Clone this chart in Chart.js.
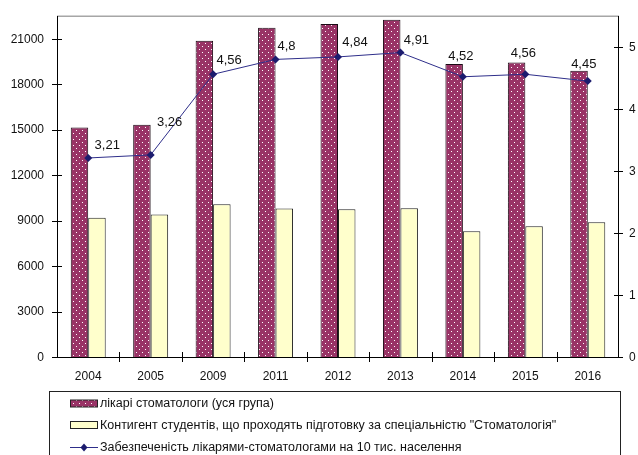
<!DOCTYPE html>
<html>
<head>
<meta charset="utf-8">
<script src="https://cdn.jsdelivr.net/npm/chart.js@4.4.1/dist/chart.umd.min.js"></script>
<style>
  html, body { margin: 0; padding: 0; background: #fff; }
  #wrap { width: 638px; height: 455px; position: relative; }
</style>
</head>
<body>
<div id="wrap"><canvas id="c" width="638" height="455"></canvas></div>
<script>
// Years on the category axis
const years = ['2004', '2005', '2009', '2011', '2012', '2013', '2014', '2015', '2016'];
// Dentists, whole group (left axis)
const dentists = [15150, 15320, 20870, 21730, 21970, 22250, 19330, 19440, 18890];
// Students in the "Стоматологія" specialty (left axis)
const students = [9180, 9400, 10080, 9800, 9750, 9820, 8300, 8630, 8890];
// Dentists per 10 thousand population (right axis)
const ratio = [3.21, 3.26, 4.56, 4.8, 4.84, 4.91, 4.52, 4.56, 4.45];

// Tick labels of both value axes
const leftTicks = [0, 3000, 6000, 9000, 12000, 15000, 18000, 21000];
const rightTicks = [0, 1, 2, 3, 4, 5];

const seriesNames = [
  'лікарі стоматологи (уся група)',
  'Контигент студентів, що проходять підготовку за спеціальністю "Стоматологія"',
  'Забезпеченість лікарями-стоматологами на 10 тис. населення'
];

// Placement of the value labels relative to each point (px)
const labelShift = [
  [19, -13], [19, -32], [16, -14], [11, -13], [17, -14],
  [16, -12], [-2, -20], [-2, -21], [-4, -17]
];

const FONT = '"Liberation Sans", Arial, sans-serif';
const MAROON = '#993366';
const CREAM = '#FFFFCC';
const NAVY = '#2E2E8A';

// Dotted fill for the dentists bars
function dotPattern() {
  const t = document.createElement('canvas');
  t.width = 6; t.height = 6;
  const g = t.getContext('2d');
  g.fillStyle = MAROON;
  g.fillRect(0, 0, 6, 6);
  g.fillStyle = '#ffffff';
  g.fillRect(1, 1, 1, 1);
  g.fillRect(4, 4, 1, 1);
  return g.createPattern(t, 'repeat');
}

const ctx = document.getElementById('c').getContext('2d');
const dots = dotPattern();

const axisDecor = {
  id: 'axisDecor',
  afterDraw(chart) {
    const c = chart.ctx;
    const a = chart.chartArea;
    const y = chart.scales.y, y1 = chart.scales.y1, x = chart.scales.x;
    c.save();
    // top edge of the plot frame
    c.strokeStyle = '#a6a6a6';
    c.lineWidth = 1.5;
    c.beginPath();
    c.moveTo(a.left, a.top + 0.25);
    c.lineTo(a.right, a.top + 0.25);
    c.stroke();
    // axis lines
    c.strokeStyle = '#000';
    c.lineWidth = 1;
    c.beginPath();
    c.moveTo(a.left + 0.5, a.top); c.lineTo(a.left + 0.5, a.bottom);
    c.moveTo(a.right - 0.5, a.top); c.lineTo(a.right - 0.5, a.bottom);
    c.moveTo(a.left, a.bottom + 0.5); c.lineTo(a.right, a.bottom + 0.5);
    // crossing tick marks
    leftTicks.forEach(v => {
      const p = Math.round(y.getPixelForValue(v)) + 0.5;
      c.moveTo(a.left - 5, p); c.lineTo(a.left + 5, p);
    });
    rightTicks.forEach(v => {
      const p = Math.round(y1.getPixelForValue(v)) + 0.5;
      c.moveTo(a.right - 5, p); c.lineTo(a.right + 4, p);
    });
    const n = years.length;
    const w = (a.right - a.left) / n;
    for (let i = 1; i < n; i++) {
      const p = Math.round(a.left + i * w) + 0.5;
      c.moveTo(p, a.bottom - 5); c.lineTo(p, a.bottom + 5);
    }
    c.stroke();

    // axis tick labels
    c.fillStyle = '#111';
    c.font = '12px ' + FONT;
    c.textBaseline = 'middle';
    c.textAlign = 'right';
    leftTicks.forEach(v => c.fillText(String(v), a.left - 13, y.getPixelForValue(v) + 0.5));
    c.textAlign = 'left';
    rightTicks.forEach(v => c.fillText(String(v), a.right + 10, y1.getPixelForValue(v) + 0.5));
    c.textAlign = 'center';
    years.forEach((s, i) => c.fillText(s, x.getPixelForValue(i), a.bottom + 20));

    // value labels for the ratio line
    const meta = chart.getDatasetMeta(2);
    c.fillStyle = '#111';
    c.font = '13px ' + FONT;
    c.textAlign = 'center';
    meta.data.forEach((pt, i) => {
      const s = labelShift[i];
      c.fillText(String(ratio[i]).replace('.', ','), pt.x + s[0], pt.y + s[1]);
    });

    // legend box
    c.strokeStyle = '#222';
    c.lineWidth = 1;
    c.strokeRect(49.5, 391.5, 571, 80);
    c.font = '12.5px ' + FONT;
    c.textAlign = 'left';
    const rows = [403.5, 425, 447];
    c.fillStyle = dots;
    c.fillRect(70, rows[0] - 3.5, 28, 7);
    c.strokeStyle = '#222';
    c.strokeRect(70.5, rows[0] - 3.5, 27, 7);
    c.fillStyle = CREAM;
    c.fillRect(70, rows[1] - 3.5, 28, 7);
    c.strokeRect(70.5, rows[1] - 3.5, 27, 7);
    c.strokeStyle = NAVY;
    c.beginPath();
    c.moveTo(70, rows[2] + 0.5); c.lineTo(98, rows[2] + 0.5);
    c.stroke();
    c.fillStyle = '#1c1c6e';
    c.beginPath();
    c.moveTo(84, rows[2] - 3.5); c.lineTo(87.5, rows[2] + 0.5);
    c.lineTo(84, rows[2] + 4.5); c.lineTo(80.5, rows[2] + 0.5);
    c.closePath(); c.fill();
    c.fillStyle = '#111';
    seriesNames.forEach((s, i) => c.fillText(s, 100, rows[i] + 0.5));
    c.restore();
  }
};

new Chart(ctx, {
  type: 'bar',
  data: {
    labels: years,
    datasets: [
      {
        label: seriesNames[0], data: dentists, yAxisID: 'y', order: 1,
        backgroundColor: dots, borderColor: '#1a0a14', borderWidth: 1,
        categoryPercentage: 0.56, barPercentage: 1
      },
      {
        label: seriesNames[1], data: students, yAxisID: 'y', order: 2,
        backgroundColor: CREAM, borderColor: '#222', borderWidth: 1,
        categoryPercentage: 0.56, barPercentage: 1
      },
      {
        type: 'line', label: seriesNames[2], data: ratio, yAxisID: 'y1', order: 0,
        borderColor: NAVY, borderWidth: 1, tension: 0, fill: false,
        pointStyle: 'rectRot', pointRadius: 4, pointBackgroundColor: '#1c1c6e',
        pointBorderColor: '#1c1c6e', pointBorderWidth: 0
      }
    ]
  },
  options: {
    responsive: false,
    animation: false,
    devicePixelRatio: 1,
    layout: { padding: { top: 16, bottom: 68, left: 0, right: 0 } },
    plugins: { legend: { display: false }, tooltip: { enabled: false } },
    scales: {
      x: {
        grid: { display: false }, border: { display: false },
        ticks: { display: false },
        afterFit(s) { s.height = 30; }
      },
      y: {
        position: 'left', min: 0, max: 22500,
        grid: { display: false }, border: { display: false },
        ticks: { display: false },
        afterFit(s) { s.width = 57; }
      },
      y1: {
        position: 'right', min: 0, max: 5.5,
        grid: { display: false }, border: { display: false },
        ticks: { display: false },
        afterFit(s) { s.width = 19; }
      }
    }
  },
  plugins: [axisDecor]
});
</script>
</body>
</html>
